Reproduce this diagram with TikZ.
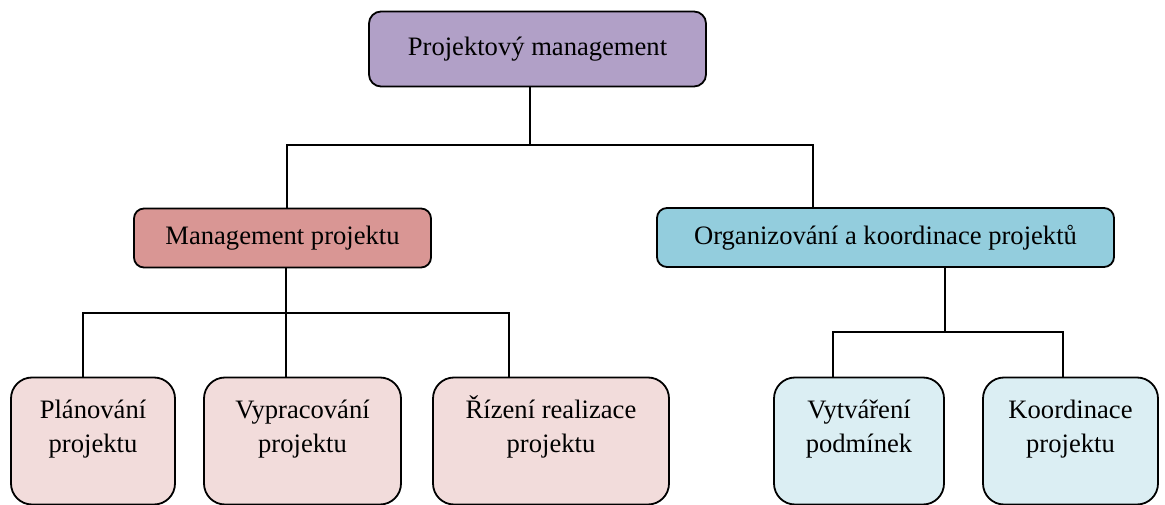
\documentclass[tikz,border=0pt]{standalone}
\usepackage{fontspec}
\setmainfont{Liberation Serif}

\definecolor{topfill}{RGB}{177,160,199}
\definecolor{mgmtfill}{RGB}{217,150,148}
\definecolor{orgfill}{RGB}{147,205,221}
\definecolor{pinkleaf}{RGB}{242,220,219}
\definecolor{blueleaf}{RGB}{219,238,243}

\begin{document}
\begin{tikzpicture}[
		x=1pt, y=-1pt,
		box/.style={draw, line width=1.8pt, inner sep=0pt, align=center, font=\fontsize{26.6}{34}\selectfont},
		main/.style={box, rounded corners=12pt, fill=topfill, minimum width=337pt, minimum height=75pt},
		branch/.style={box, rounded corners=10pt, minimum height=59pt},
		leaf/.style={box, rounded corners=21pt, minimum height=127pt, text height=53pt, text depth=30pt},
		link/.style={line width=1.8pt}
		]
		
		\useasboundingbox (0,0) rectangle (1165,505);
		
		% Top level
		\node[main] (top) at (537.5,49) {Projektový management};
		
		% Second level
		\node[branch, fill=mgmtfill, minimum width=297pt] (mgmt) at (282.5,238) {Management projektu};
		\node[branch, fill=orgfill, minimum width=457pt] (org) at (885.5,237.5) {Organizování a koordinace projektů};
		
		% Leaves
		\node[leaf, fill=pinkleaf, minimum width=164pt] (plan) at (93,441) {Plánování\\projektu};
		\node[leaf, fill=pinkleaf, minimum width=197pt] (vyprac) at (302.5,441) {Vypracování\\projektu};
		\node[leaf, fill=pinkleaf, minimum width=236pt] (rizeni) at (551,441) {Řízení realizace\\projektu};
		\node[leaf, fill=blueleaf, minimum width=170pt] (vytvar) at (859,441) {Vytváření\\podmínek};
		\node[leaf, fill=blueleaf, minimum width=175pt] (koord) at (1070.5,441) {Koordinace\\projektu};
		
		% Connectors
		\coordinate (t0) at (530,145);
		\coordinate (m0) at (286,313);
		\coordinate (o0) at (945,332);
		\draw[link] (top.south -| t0) -- (t0);
		\draw[link] (mgmt.north -| 287,0) |- (t0) -| (org.north -| 813,0);
		\draw[link] (mgmt.south -| m0) -- (m0);
		\draw[link] (plan.north -| 83,0) |- (m0) -| (rizeni.north -| 509,0);
		\draw[link] (vyprac.north -| m0) -- (m0);
		\draw[link] (org.south -| o0) -- (o0);
		\draw[link] (vytvar.north -| 833,0) |- (o0) -| (koord.north -| 1063,0);
		
\end{tikzpicture}
\end{document}
